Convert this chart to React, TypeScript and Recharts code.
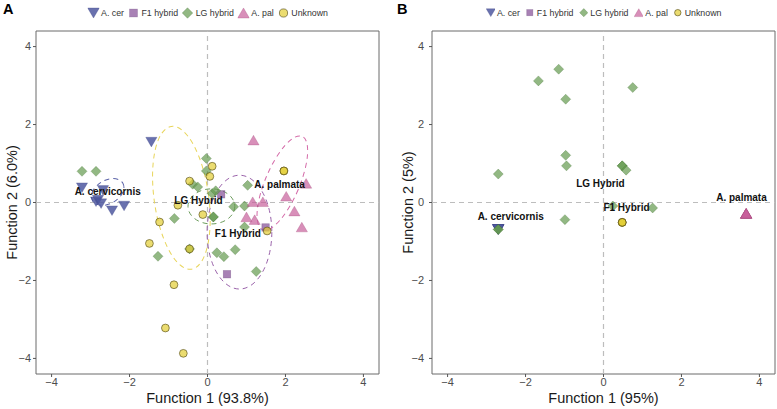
import React from "react";
import { ScatterChart, Scatter, XAxis, YAxis, ReferenceLine, ReferenceArea } from "recharts";

type XY = [number, number];

// ---- panel A: discriminant scores, Function 1 (93.8%) vs Function 2 (6.0%) ----
const aCer: XY[] = [[-1.44, 1.55], [-3.22, 0.38], [-2.68, 0.31], [-2.86, 0.02], [-2.81, 0.06], [-2.73, -0.03], [-2.45, -0.21], [-2.14, -0.09]];
const aF1: XY[] = [[0.35, 0.21], [1.49, -0.64], [0.5, -1.84]];
const aLG: XY[] = [
  [-3.22, 0.8], [-2.86, 0.8], [-0.03, 1.13], [-0.03, 0.81], [-0.38, 0.47], [-0.25, 0.4], [0.12, 0.23], [0.21, 0.3],
  [1.03, 0.44], [0.67, -0.11], [0.95, -0.09], [0.15, -0.37], [0.15, -0.37], [-0.85, -0.41], [0.95, -0.63],
  [-1.27, -1.38], [-0.46, -1.19], [0.24, -1.29], [0.42, -1.39], [0.71, -1.21], [1.25, -1.77],
];
const aPal: XY[] = [[1.18, 1.6], [2.53, 0.49], [2.02, 0.16], [1.16, 0.02], [1.42, 0.02], [2.23, -0.22], [1.0, -0.37], [1.21, -0.44], [2.42, -0.63]];
const aUnk: XY[] = [
  [-0.46, 0.55], [0.12, 0.93], [0.06, 0.67], [-0.76, -0.07], [-1.23, -0.5], [-0.12, -0.31], [-1.49, -1.05],
  [-0.46, -1.19], [-0.86, -2.11], [1.96, 0.81], [1.96, 0.81], [1.53, -0.73], [-1.08, -3.22], [-0.62, -3.87],
];

// group ellipses: centre, semi-axes (data units), rotation (deg)
const aEllCer = [{ x: -2.56, y: 0.27, rx: 0.45, ry: 0.3, angle: -30 }];
const aEllF1 = [{ x: 0.82, y: -0.76, rx: 0.83, ry: 1.46, angle: 0 }];
const aEllLG = [{ x: 0.1, y: -0.1, rx: 0.6, ry: 0.45, angle: 0 }];
const aEllPal = [{ x: 1.92, y: 0.5, rx: 0.44, ry: 1.3, angle: 23 }];
const aEllUnk = [{ x: -0.67, y: 0.12, rx: 0.7, ry: 1.85, angle: -8 }];

const aLabels = [
  { x: -2.56, y: 0.28, text: "A. cervicornis" },
  { x: -0.23, y: 0.06, text: "LG Hybrid" },
  { x: 1.85, y: 0.47, text: "A. palmata" },
  { x: 0.78, y: -0.79, text: "F1 Hybrid" },
];

// ---- panel B: Function 1 (95%) vs Function 2 (5%) ----
const bCer: XY[] = [[-2.7, -0.69], [-2.7, -0.69], [-2.7, -0.69], [-2.7, -0.69], [-2.7, -0.69], [-2.7, -0.69]];
const bF1: XY[] = [];
const bLG: XY[] = [
  [-1.15, 3.42], [-1.67, 3.12], [-0.97, 2.65], [0.75, 2.95], [-0.97, 1.21], [-0.95, 0.94], [-2.7, 0.73],
  [0.48, 0.94], [0.48, 0.94], [0.58, 0.83], [-0.99, -0.44], [-2.7, -0.69], [-2.7, -0.69], [0.24, -0.09], [1.26, -0.14],
];
const bPal: XY[] = [[3.66, -0.28], [3.66, -0.28], [3.66, -0.28], [3.66, -0.28], [3.66, -0.28], [3.66, -0.28]];
const bUnk: XY[] = [[0.48, -0.51], [0.48, -0.51], [0.48, -0.51]];

const bLabels = [
  { x: -2.38, y: -0.37, text: "A. cervicornis" },
  { x: -0.08, y: 0.49, text: "LG Hybrid" },
  { x: 0.59, y: -0.14, text: "F1 Hybrid" },
  { x: 3.54, y: 0.14, text: "A. palmata" },
];

const DOMAIN: [number, number] = [-4.4, 4.4];
const TICKS = [-4, -2, 0, 2, 4];
const PLOT = 343;
const PX = PLOT / (DOMAIN[1] - DOMAIN[0]);
const FONT = '"Liberation Sans", Arial, Helvetica, sans-serif';

type Kind = "down" | "up" | "square" | "diamond" | "circle";
const GROUPS: { key: string; name: string; kind: Kind; fill: string; stroke: string; op: number; ell: string }[] = [
  { key: "cer", name: "A. cer", kind: "down", fill: "#4f58a0", stroke: "#3a4080", op: 0.85, ell: "#5a62a8" },
  { key: "f1", name: "F1 hybrid", kind: "square", fill: "#834c95", stroke: "#5e3470", op: 0.7, ell: "#9a62aa" },
  { key: "lg", name: "LG hybrid", kind: "diamond", fill: "#649a4f", stroke: "#3d6a2e", op: 0.7, ell: "#6c9c5c" },
  { key: "pal", name: "A. pal", kind: "up", fill: "#c75f9b", stroke: "#a04478", op: 0.7, ell: "#d46aa8" },
  { key: "unk", name: "Unknown", kind: "circle", fill: "#e2cd33", stroke: "#4a4210", op: 0.7, ell: "#e8d55a" },
];

const toPts = (a: XY[]) => a.map(([x, y]) => ({ x, y }));
const fmt = (v: number) => String(v).replace("-", "\u2212");

const Marker = ({ kind, cx, cy, fill, stroke, op, s = 1 }: any) => {
  const st = { fill, fillOpacity: op, stroke, strokeOpacity: kind === "circle" ? 0.85 : 0.4, strokeWidth: 0.7 };
  if (kind === "down") {
    const w = 5.6 * s, h = 4.8 * s;
    return <polygon points={`${cx - w},${cy - h} ${cx + w},${cy - h} ${cx},${cy + h}`} {...st} />;
  }
  if (kind === "up") {
    const w = 5.6 * s, h = 4.8 * s;
    return <polygon points={`${cx - w},${cy + h} ${cx + w},${cy + h} ${cx},${cy - h}`} {...st} />;
  }
  if (kind === "square") {
    const d = 3.7 * s;
    return <rect x={cx - d} y={cy - d} width={2 * d} height={2 * d} {...st} />;
  }
  if (kind === "diamond") {
    const d = 5 * s;
    return <polygon points={`${cx},${cy - d} ${cx + d},${cy} ${cx},${cy + d} ${cx - d},${cy}`} {...st} />;
  }
  return <circle cx={cx} cy={cy} r={3.9 * s} {...st} />;
};

const ellipseShape = (color: string) => (p: any) => {
  const { cx, cy, payload } = p;
  return (
    <ellipse cx={cx} cy={cy} rx={payload.rx * PX} ry={payload.ry * PX}
      transform={`rotate(${payload.angle} ${cx} ${cy})`}
      fill="none" stroke={color} strokeWidth={1} strokeDasharray="5 4" />
  );
};

const labelShape = (p: any) => (
  <text x={p.cx} y={p.cy} textAnchor="middle" dominantBaseline="central"
    fontSize={10} fontWeight={700} fill="#111" fontFamily={FONT}>{p.payload.text}</text>
);

const LegendRow = ({ center, s, gap }: { center: number; s: number; gap: number }) => (
  <div style={{ position: "absolute", top: 6, left: center, transform: "translateX(-50%)", display: "flex",
    alignItems: "center", gap, fontSize: 8.8, color: "#333", fontFamily: FONT, whiteSpace: "nowrap", lineHeight: "14px" }}>
    {GROUPS.map(g => (
      <div key={g.key} style={{ display: "flex", alignItems: "center", gap: 2 }}>
        <svg width={12 * s} height={12 * s}>
          <Marker kind={g.kind} cx={6 * s} cy={6 * s} fill={g.fill} stroke={g.stroke} op={g.op} s={s * 1.05} />
        </svg>
        <span>{g.name}</span>
      </div>
    ))}
  </div>
);

type PanelProps = {
  letter: string; left: number; width: number; yw: number; xTitle: string; yTitle: string; yTitleX: number;
  series: Record<string, XY[]>; ells: Record<string, any[]>; labels: any[]; legendScale: number; legendGap: number; tickMargin: number;
};

const Panel = ({ letter, left, width, yw, xTitle, yTitle, yTitleX, series, ells, labels, legendScale, legendGap, tickMargin }: PanelProps) => (
  <div style={{ position: "absolute", left, top: 0, width, height: 409 }}>
    <div style={{ position: "absolute", left: letter === "A" ? 3 : 7, top: 2, fontSize: 14.5, fontWeight: 700, fontFamily: FONT, lineHeight: "14.5px" }}>{letter}</div>
    <LegendRow center={yw + PLOT / 2} s={legendScale} gap={legendGap} />
    <ScatterChart width={width} height={409} margin={{ top: 31, right: width - yw - PLOT, left: 0, bottom: 0 }}>
      <XAxis type="number" dataKey="x" domain={DOMAIN} ticks={TICKS} allowDataOverflow height={35}
        tickSize={3} tickMargin={1} axisLine={false} tickLine={{ stroke: "#555" }}
        tick={{ fill: "#4d4d4d", fontSize: 11, fontFamily: FONT }} tickFormatter={fmt}
        label={{ content: (lp: any) => (
          <text x={lp.viewBox.x + lp.viewBox.width / 2} y={lp.viewBox.y + 29} textAnchor="middle"
            fontSize={14.5} fill="#1a1a1a" fontFamily={FONT}>{xTitle}</text>
        ) }} />
      <YAxis type="number" dataKey="y" domain={DOMAIN} ticks={TICKS} allowDataOverflow width={yw}
        tickSize={3} tickMargin={tickMargin} axisLine={false} tickLine={{ stroke: "#555" }}
        tick={{ fill: "#4d4d4d", fontSize: 11, fontFamily: FONT }} tickFormatter={fmt}
        label={{ content: (lp: any) => {
          const cy = lp.viewBox.y + lp.viewBox.height / 2;
          return (
            <text x={yTitleX} y={cy} textAnchor="middle" transform={`rotate(-90 ${yTitleX} ${cy})`}
              fontSize={14.5} fill="#1a1a1a" fontFamily={FONT}>{yTitle}</text>
          );
        } }} />
      <ReferenceLine x={0} stroke="#bdbdbd" strokeWidth={1.2} strokeDasharray="5 4" />
      <ReferenceLine y={0} stroke="#bdbdbd" strokeWidth={1.2} strokeDasharray="5 4" />
      <ReferenceArea x1={DOMAIN[0]} x2={DOMAIN[1]} y1={DOMAIN[0]} y2={DOMAIN[1]} fill="none" stroke="#6b6b6b" strokeWidth={1} />
      {GROUPS.map(g => (ells[g.key] && ells[g.key].length ? (
        <Scatter key={"e" + g.key} data={ells[g.key]} isAnimationActive={false} shape={ellipseShape(g.ell)} />
      ) : null))}
      {GROUPS.map(g => (
        <Scatter key={g.key} name={g.name} data={toPts(series[g.key])} isAnimationActive={false}
          shape={(p: any) => <Marker kind={g.kind} cx={p.cx} cy={p.cy} fill={g.fill} stroke={g.stroke} op={g.op} />} />
      ))}
      <Scatter data={labels} isAnimationActive={false} shape={labelShape} />
    </ScatterChart>
  </div>
);

export default function App() {
  return (
    <div style={{ position: "absolute", left: 0, top: 0, width: 777, height: 409, background: "#fff", overflow: "hidden" }}>
      <Panel letter="A" left={0} width={390} yw={36} xTitle="Function 1 (93.8%)" yTitle="Function 2 (6.0%)" yTitleX={17}
        series={{ cer: aCer, f1: aF1, lg: aLG, pal: aPal, unk: aUnk }}
        ells={{ cer: aEllCer, f1: aEllF1, lg: aEllLG, pal: aEllPal, unk: aEllUnk }}
        labels={aLabels} legendScale={1} legendGap={3.5} tickMargin={2} />
      <Panel letter="B" left={390} width={387} yw={42} xTitle="Function 1 (95%)" yTitle="Function 2 (5%)" yTitleX={23}
        series={{ cer: bCer, f1: bF1, lg: bLG, pal: bPal, unk: bUnk }}
        ells={{}}
        labels={bLabels} legendScale={0.78} legendGap={5.5} tickMargin={5} />
    </div>
  );
}
